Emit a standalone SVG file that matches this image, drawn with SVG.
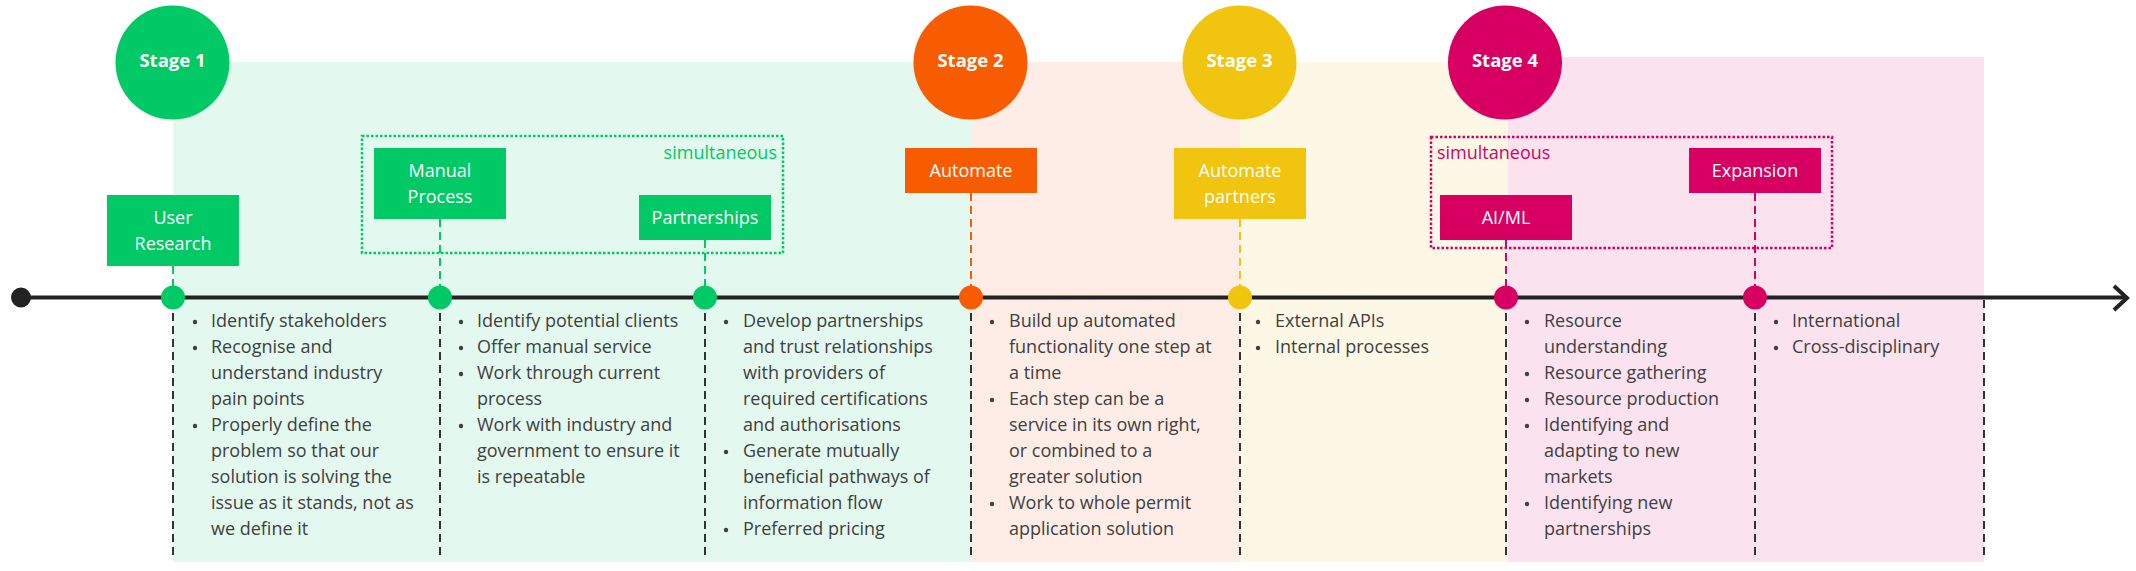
<svg xmlns="http://www.w3.org/2000/svg" width="2136" height="571" viewBox="0 0 2136 571">
<style>
text{font-family:"Open Sans","Noto Sans","Liberation Sans",sans-serif;}
.lbl{font-size:18px;fill:#ffffff;text-anchor:middle;}
.stg{font-size:18.5px;font-weight:bold;fill:#ffffff;text-anchor:middle;}
.body{font-size:18px;fill:#404040;}
.sim{font-size:18px;}
.g{fill:#00C965;}
.o{fill:#F85C00;}
.y{fill:#F0C40F;}
.p{fill:#D70062;}
.conn{stroke-width:2;stroke-dasharray:8 5;fill:none;}
.down{stroke:#333333;}
.dot{stroke-width:2.5;stroke-dasharray:2.5 2;fill:none;}
.bul{fill:#404040;}
</style>
<rect width="2136" height="571" fill="#ffffff"/>
<g id="backgrounds">
<rect x="173" y="62" width="798" height="500" fill="#E3F8EE"/>
<rect x="971" y="62" width="269" height="500" fill="#FDEDE6"/>
<rect x="1240" y="62" width="268" height="500" fill="#FDF7E6"/>
<rect x="1508" y="57" width="476" height="505" fill="#FAE3EF"/>
</g>
<g id="groups">
<rect x="362" y="136" width="421" height="117" class="dot" stroke="#00C965"/>
<text x="777" y="159" class="sim g" text-anchor="end">simultaneous</text>
<rect x="1431" y="137" width="401" height="111" class="dot" stroke="#D70062"/>
<text x="1437" y="159" class="sim p">simultaneous</text>
</g>
<g id="connectors">
<line x1="173" y1="266" x2="173" y2="287" class="conn" stroke="#00C965"/>
<line x1="440" y1="219" x2="440" y2="287" class="conn" stroke="#00C965"/>
<line x1="705" y1="240" x2="705" y2="287" class="conn" stroke="#00C965"/>
<line x1="971" y1="193" x2="971" y2="287" class="conn" stroke="#F85C00"/>
<line x1="1240" y1="219" x2="1240" y2="287" class="conn" stroke="#F0C40F"/>
<line x1="1506" y1="240" x2="1506" y2="287" class="conn" stroke="#D70062"/>
<line x1="1755" y1="193" x2="1755" y2="287" class="conn" stroke="#D70062"/>
<line x1="173" y1="300" x2="173" y2="557" class="conn down"/>
<line x1="440" y1="300" x2="440" y2="557" class="conn down"/>
<line x1="705" y1="300" x2="705" y2="557" class="conn down"/>
<line x1="971" y1="300" x2="971" y2="557" class="conn down"/>
<line x1="1240" y1="300" x2="1240" y2="557" class="conn down"/>
<line x1="1506" y1="300" x2="1506" y2="557" class="conn down"/>
<line x1="1755" y1="300" x2="1755" y2="557" class="conn down"/>
<line x1="1984" y1="300" x2="1984" y2="557" class="conn down"/>
<line x1="21" y1="297.5" x2="2126" y2="297.5" stroke="#222222" stroke-width="4"/>
<polyline points="2114,286 2127,298 2114,310" fill="none" stroke="#222222" stroke-width="4" stroke-linejoin="miter"/>
<circle cx="21" cy="297.5" r="10" fill="#222222"/>
</g>
<g id="stage1">
<circle cx="172.5" cy="62.5" r="57" class="g"/>
<text x="172.5" y="67" class="stg">Stage 1</text>
</g>
<g id="stage2">
<circle cx="970.5" cy="62.5" r="57" class="o"/>
<text x="970.5" y="67" class="stg">Stage 2</text>
</g>
<g id="stage3">
<circle cx="1239.5" cy="62.5" r="57" class="y"/>
<text x="1239.5" y="67" class="stg">Stage 3</text>
</g>
<g id="stage4">
<circle cx="1505" cy="62.5" r="57" class="p"/>
<text x="1505" y="67" class="stg">Stage 4</text>
</g>
<g id="user-research">
<rect x="107" y="195" width="132" height="71" class="g"/>
<text x="173" y="224" class="lbl">User</text>
<text x="173" y="250" class="lbl">Research</text>
<circle cx="173" cy="297.5" r="12" class="g"/>
</g>
<g id="manual-process">
<rect x="374" y="148" width="132" height="71" class="g"/>
<text x="440" y="177" class="lbl">Manual</text>
<text x="440" y="203" class="lbl">Process</text>
<circle cx="440" cy="297.5" r="12" class="g"/>
</g>
<g id="partnerships">
<rect x="639" y="195" width="132" height="45" class="g"/>
<text x="705" y="224" class="lbl">Partnerships</text>
<circle cx="705" cy="297.5" r="12" class="g"/>
</g>
<g id="automate">
<rect x="905" y="148" width="132" height="45" class="o"/>
<text x="971" y="177" class="lbl">Automate</text>
<circle cx="971" cy="297.5" r="12" class="o"/>
</g>
<g id="automate-partners">
<rect x="1174" y="148" width="132" height="71" class="y"/>
<text x="1240" y="177" class="lbl">Automate</text>
<text x="1240" y="203" class="lbl">partners</text>
<circle cx="1240" cy="297.5" r="12" class="y"/>
</g>
<g id="ai-ml">
<rect x="1440" y="195" width="132" height="45" class="p"/>
<text x="1506" y="224" class="lbl">AI/ML</text>
<circle cx="1506" cy="297.5" r="12" class="p"/>
</g>
<g id="expansion">
<rect x="1689" y="148" width="132" height="45" class="p"/>
<text x="1755" y="177" class="lbl">Expansion</text>
<circle cx="1755" cy="297.5" r="12" class="p"/>
</g>
<g id="notes-user-research">
<circle cx="195" cy="322" r="2.2" class="bul"/>
<circle cx="195" cy="348" r="2.2" class="bul"/>
<circle cx="195" cy="426" r="2.2" class="bul"/>
<text class="body" x="211" y="327">Identify stakeholders</text>
<text class="body" x="211" y="353">Recognise and</text>
<text class="body" x="211" y="379">understand industry</text>
<text class="body" x="211" y="405">pain points</text>
<text class="body" x="211" y="431">Properly define the</text>
<text class="body" x="211" y="457">problem so that our</text>
<text class="body" x="211" y="483">solution is solving the</text>
<text class="body" x="211" y="509">issue as it stands, not as</text>
<text class="body" x="211" y="535">we define it</text>
</g>
<g id="notes-manual-process">
<circle cx="461" cy="322" r="2.2" class="bul"/>
<circle cx="461" cy="348" r="2.2" class="bul"/>
<circle cx="461" cy="374" r="2.2" class="bul"/>
<circle cx="461" cy="426" r="2.2" class="bul"/>
<text class="body" x="477" y="327">Identify potential clients</text>
<text class="body" x="477" y="353">Offer manual service</text>
<text class="body" x="477" y="379">Work through current</text>
<text class="body" x="477" y="405">process</text>
<text class="body" x="477" y="431">Work with industry and</text>
<text class="body" x="477" y="457">government to ensure it</text>
<text class="body" x="477" y="483">is repeatable</text>
</g>
<g id="notes-partnerships">
<circle cx="726" cy="322" r="2.2" class="bul"/>
<circle cx="726" cy="452" r="2.2" class="bul"/>
<circle cx="726" cy="530" r="2.2" class="bul"/>
<text class="body" x="743" y="327">Develop partnerships</text>
<text class="body" x="743" y="353">and trust relationships</text>
<text class="body" x="743" y="379">with providers of</text>
<text class="body" x="743" y="405">required certifications</text>
<text class="body" x="743" y="431">and authorisations</text>
<text class="body" x="743" y="457">Generate mutually</text>
<text class="body" x="743" y="483">beneficial pathways of</text>
<text class="body" x="743" y="509">information flow</text>
<text class="body" x="743" y="535">Preferred pricing</text>
</g>
<g id="notes-automate">
<circle cx="992" cy="322" r="2.2" class="bul"/>
<circle cx="992" cy="400" r="2.2" class="bul"/>
<circle cx="992" cy="504" r="2.2" class="bul"/>
<text class="body" x="1009" y="327">Build up automated</text>
<text class="body" x="1009" y="353">functionality one step at</text>
<text class="body" x="1009" y="379">a time</text>
<text class="body" x="1009" y="405">Each step can be a</text>
<text class="body" x="1009" y="431">service in its own right,</text>
<text class="body" x="1009" y="457">or combined to a</text>
<text class="body" x="1009" y="483">greater solution</text>
<text class="body" x="1009" y="509">Work to whole permit</text>
<text class="body" x="1009" y="535">application solution</text>
</g>
<g id="notes-automate-partners">
<circle cx="1258" cy="322" r="2.2" class="bul"/>
<circle cx="1258" cy="348" r="2.2" class="bul"/>
<text class="body" x="1275" y="327">External APIs</text>
<text class="body" x="1275" y="353">Internal processes</text>
</g>
<g id="notes-ai-ml">
<circle cx="1527" cy="322" r="2.2" class="bul"/>
<circle cx="1527" cy="374" r="2.2" class="bul"/>
<circle cx="1527" cy="400" r="2.2" class="bul"/>
<circle cx="1527" cy="426" r="2.2" class="bul"/>
<circle cx="1527" cy="504" r="2.2" class="bul"/>
<text class="body" x="1544" y="327">Resource</text>
<text class="body" x="1544" y="353">understanding</text>
<text class="body" x="1544" y="379">Resource gathering</text>
<text class="body" x="1544" y="405">Resource production</text>
<text class="body" x="1544" y="431">Identifying and</text>
<text class="body" x="1544" y="457">adapting to new</text>
<text class="body" x="1544" y="483">markets</text>
<text class="body" x="1544" y="509">Identifying new</text>
<text class="body" x="1544" y="535">partnerships</text>
</g>
<g id="notes-expansion">
<circle cx="1776" cy="322" r="2.2" class="bul"/>
<circle cx="1776" cy="348" r="2.2" class="bul"/>
<text class="body" x="1792" y="327">International</text>
<text class="body" x="1792" y="353">Cross-disciplinary</text>
</g>
</svg>
